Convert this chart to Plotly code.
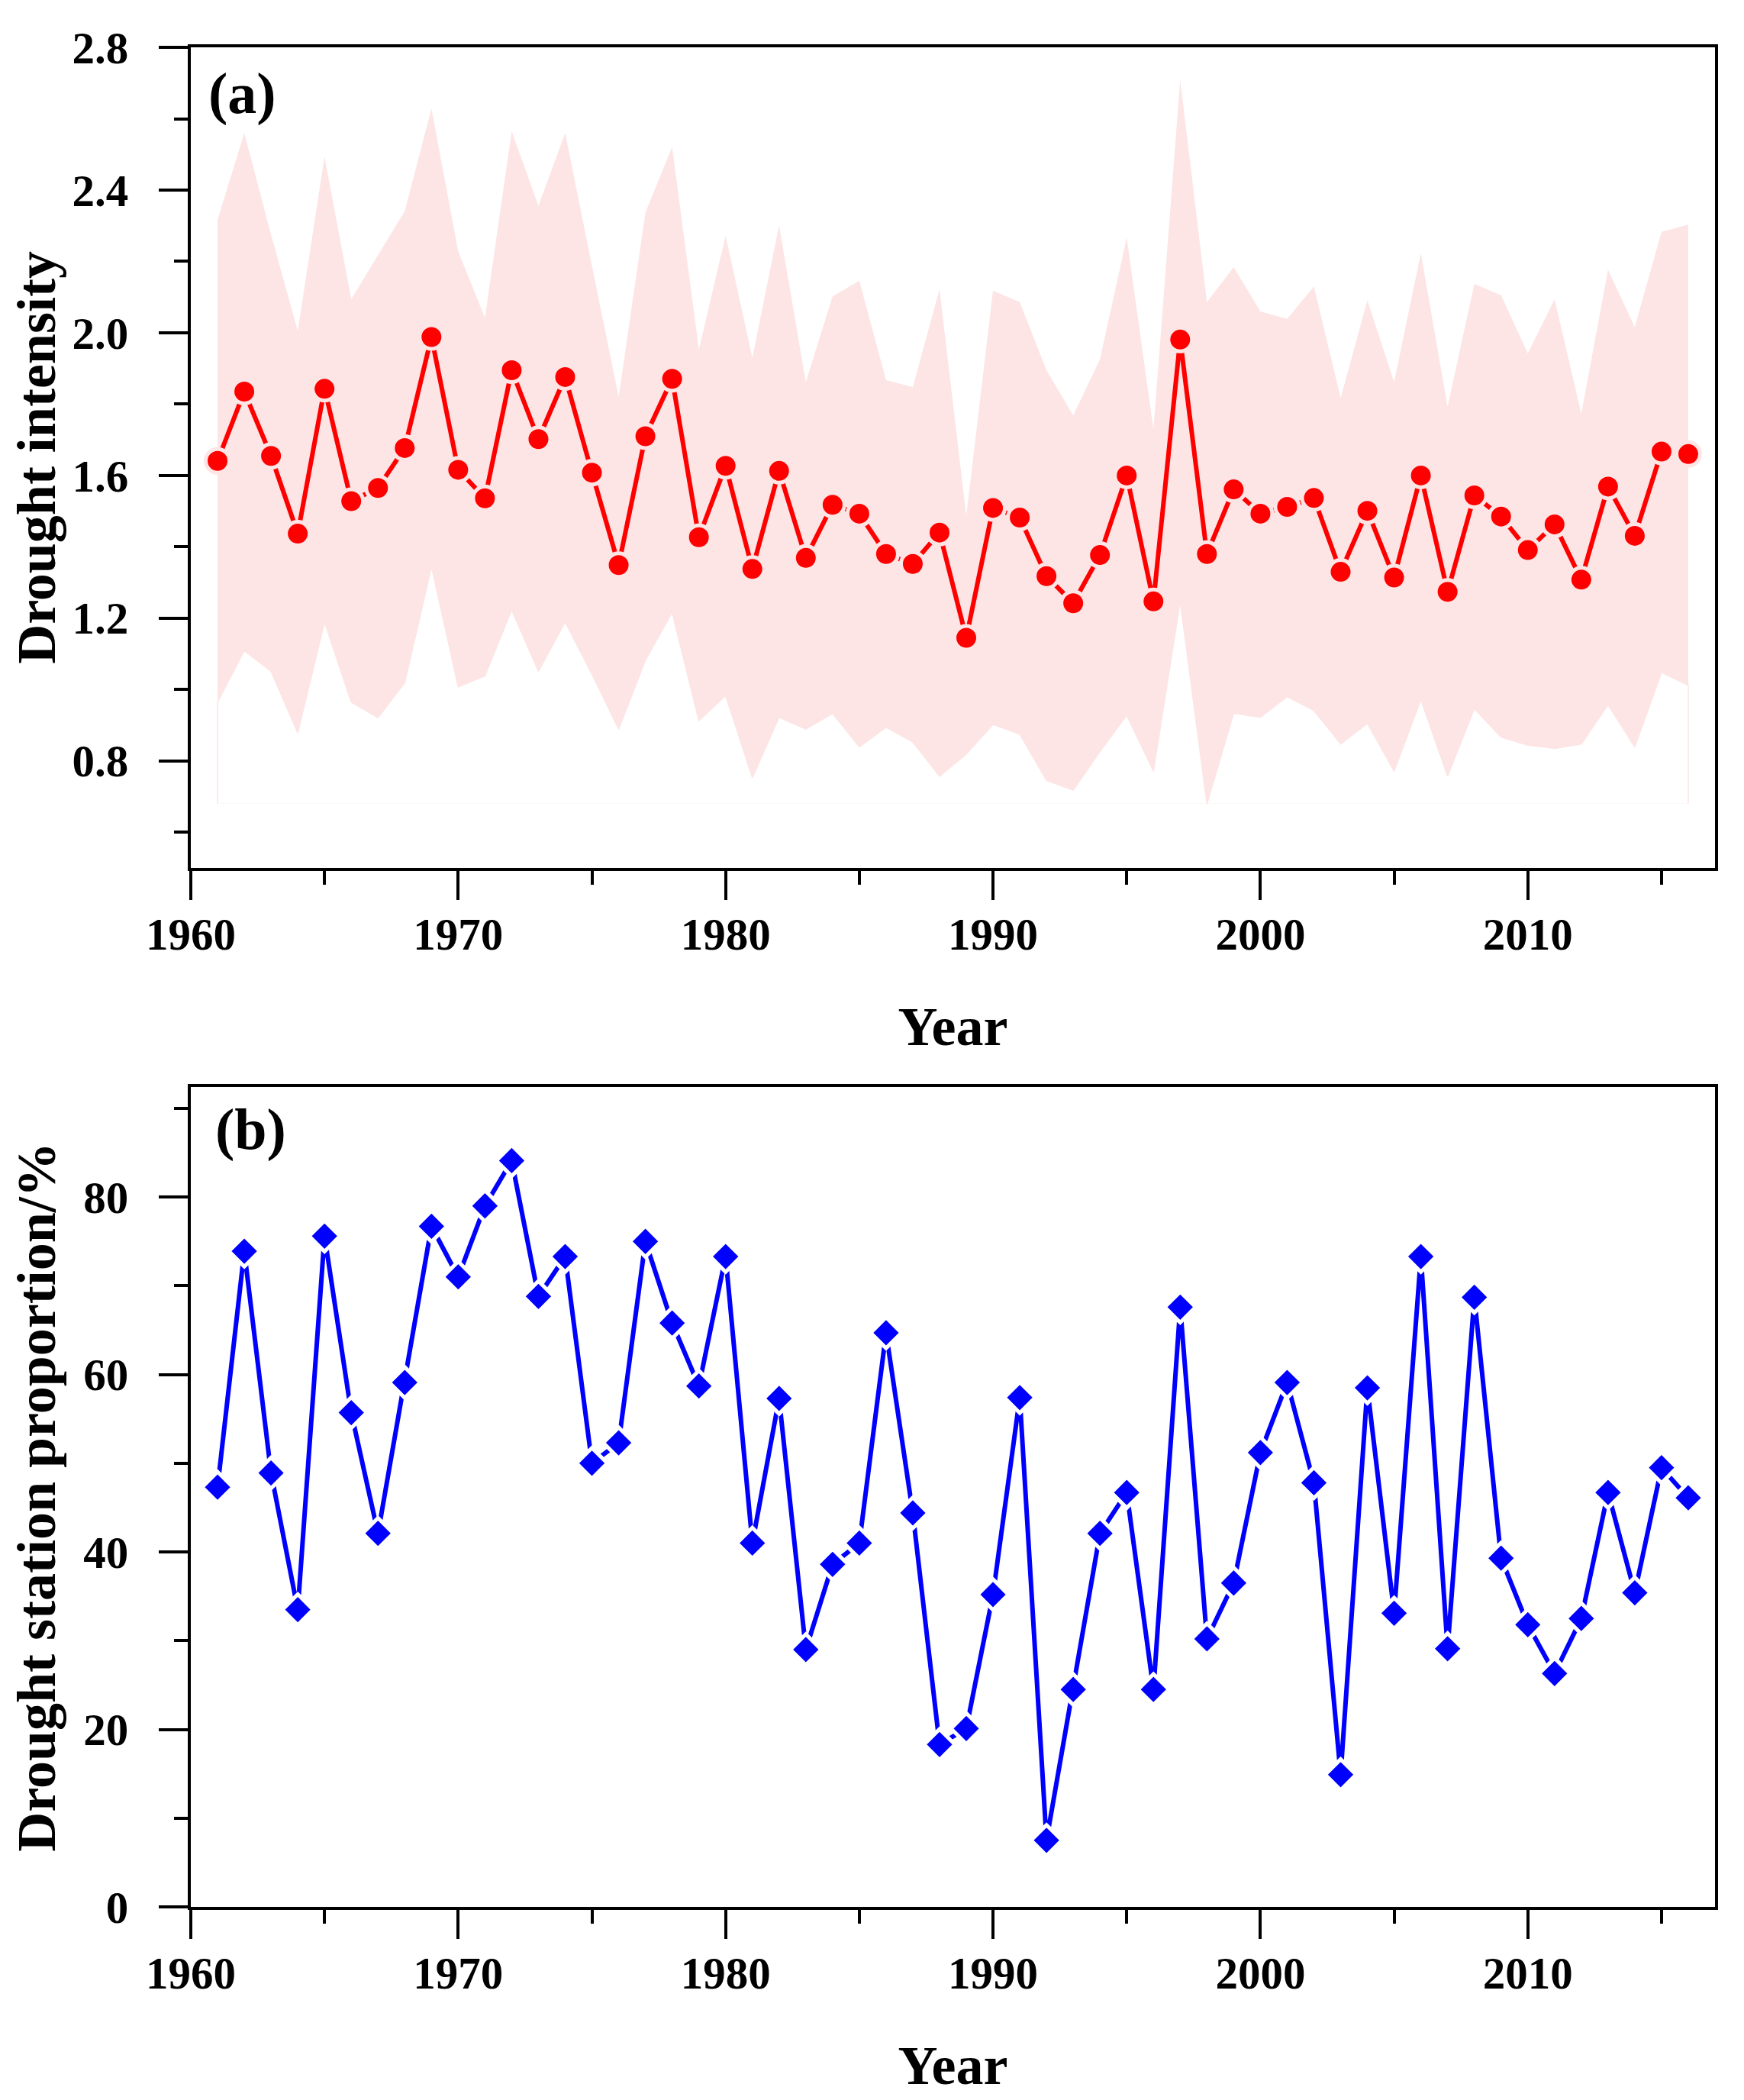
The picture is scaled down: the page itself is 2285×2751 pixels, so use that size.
import plotly.graph_objects as go

# values
years = list(range(1961, 2017))

intensity = [1.641, 1.835, 1.655, 1.437, 1.843, 1.528, 1.565, 1.677, 1.988, 1.616,
             1.536, 1.895, 1.702, 1.876, 1.608, 1.349, 1.710, 1.871, 1.427, 1.627,
             1.338, 1.613, 1.369, 1.518, 1.493, 1.380, 1.352, 1.440, 1.145, 1.509,
             1.482, 1.318, 1.242, 1.377, 1.600, 1.247, 1.981, 1.380, 1.561, 1.493,
             1.512, 1.537, 1.330, 1.501, 1.314, 1.600, 1.274, 1.544, 1.485, 1.391,
             1.463, 1.308, 1.569, 1.431, 1.667, 1.660]

upper = [2.317, 2.560, 2.275, 2.005, 2.494, 2.094, 2.217, 2.341, 2.628, 2.228,
         2.042, 2.565, 2.356, 2.560, 2.188, 1.820, 2.337, 2.521, 1.953, 2.272,
         1.930, 2.301, 1.862, 2.102, 2.146, 1.867, 1.848, 2.122, 1.487, 2.118,
         2.086, 1.895, 1.768, 1.926, 2.267, 1.729, 2.709, 2.086, 2.184, 2.060,
         2.039, 2.130, 1.817, 2.091, 1.862, 2.223, 1.793, 2.137, 2.105, 1.942,
         2.094, 1.773, 2.177, 2.016, 2.283, 2.303]

lower = [0.965, 1.109, 1.051, 0.878, 1.189, 0.965, 0.921, 1.019, 1.344, 1.007,
         1.038, 1.223, 1.051, 1.189, 1.043, 0.889, 1.082, 1.216, 0.913, 0.983,
         0.753, 0.922, 0.889, 0.933, 0.839, 0.894, 0.853, 0.757, 0.819, 0.902,
         0.875, 0.745, 0.718, 0.826, 0.928, 0.771, 1.247, 0.679, 0.933, 0.922,
         0.980, 0.941, 0.847, 0.905, 0.771, 0.972, 0.757, 0.946, 0.867, 0.844,
         0.835, 0.847, 0.957, 0.839, 1.048, 1.012]

band_floor = 0.68

proportion = [47.3, 73.9, 48.9, 33.5, 75.6, 55.7, 42.1, 59.1, 76.7, 71.0,
              79.0, 84.1, 68.8, 73.3, 50.0, 52.3, 75.0, 65.8, 58.7, 73.3,
              41.0, 57.3, 29.0, 38.6, 41.0, 64.7, 44.4, 18.3, 20.1, 35.2,
              57.4, 7.5, 24.5, 42.1, 46.7, 24.5, 67.6, 30.2, 36.5, 51.2,
              59.1, 47.8, 14.9, 58.5, 33.1, 73.3, 29.1, 68.7, 39.3, 31.8,
              26.3, 32.5, 46.7, 35.4, 49.5, 46.1]

W, H = 2285, 2751
PINK = "rgb(253,229,229)"
FONT = "Liberation Serif"

fig = go.Figure()

# band: upper curve down to a floor, then the lower curve cut out in white
bx = [years[0]] + years + [years[-1]]
fig.add_trace(go.Scatter(x=bx, y=[band_floor] + upper + [band_floor],
                         fill="toself", fillcolor=PINK, mode="lines",
                         line=dict(width=0), xaxis="x", yaxis="y",
                         hoverinfo="skip"))
fig.add_trace(go.Scatter(x=bx, y=[band_floor] + lower + [band_floor],
                         fill="toself", fillcolor="white", mode="lines",
                         line=dict(width=1.5, color=PINK), xaxis="x", yaxis="y",
                         hoverinfo="skip"))
fig.add_trace(go.Scatter(x=years, y=intensity, mode="lines+markers",
                         line=dict(color="#ff0000", width=6),
                         marker=dict(symbol="circle", size=31, color="#ff0000",
                                     line=dict(color=PINK, width=5)),
                         xaxis="x", yaxis="y"))

fig.add_trace(go.Scatter(x=years, y=proportion, mode="lines+markers",
                         line=dict(color="#0000ff", width=6),
                         marker=dict(symbol="diamond", size=31, color="#0000ff",
                                     line=dict(color="white", width=5)),
                         xaxis="x2", yaxis="y2"))

tickfont = dict(family=FONT, size=59, color="black", weight="bold")
titlefont = dict(family=FONT, size=72, color="black", weight="bold")

common = dict(showline=True, linecolor="black", linewidth=4, mirror=True,
              ticks="outside", ticklen=38, tickwidth=4, tickcolor="black",
              showgrid=False, zeroline=False, tickfont=tickfont,
              automargin=False)

xdom = [242 / W, 2239 / W]
xaxis_common = dict(common, range=[1960, 2017], tick0=1960, dtick=10,
                    minor=dict(ticks="outside", ticklen=18, tickwidth=4,
                               tickcolor="black", dtick=5, tick0=1960),
                    ticklabelstandoff=-6)

fig.update_layout(
    width=W, height=H,
    margin=dict(l=0, r=0, t=0, b=0),
    paper_bgcolor="white", plot_bgcolor="white",
    showlegend=False,
    xaxis=dict(xaxis_common, domain=xdom, anchor="y",
               title=dict(text="Year", font=titlefont, standoff=64)),
    yaxis=dict(common, domain=[1 - 1129 / H, 1 - 54 / H], anchor="x",
               range=[0.5, 2.8001], tick0=0.8, dtick=0.4, tickformat=".1f",
               minor=dict(ticks="outside", ticklen=18, tickwidth=4,
                          tickcolor="black", dtick=0.2, tick0=0.6),
               ticklabelstandoff=28,
               title=dict(text="Drought intensity", font=titlefont, standoff=22)),
    xaxis2=dict(xaxis_common, domain=xdom, anchor="y2",
                title=dict(text="Year", font=titlefont, standoff=64)),
    yaxis2=dict(common, domain=[1 - 2490 / H, 1 - 1416 / H], anchor="x2",
                range=[0, 92.4], tick0=0, dtick=20,
                minor=dict(ticks="outside", ticklen=18, tickwidth=4,
                           tickcolor="black", dtick=10, tick0=0),
                ticklabelstandoff=28,
                title=dict(text="Drought station proportion/%", font=titlefont,
                           standoff=30)),
    annotations=[
        dict(text="(a)", x=263 / W, y=1 - 70 / H, xref="paper", yref="paper",
             xanchor="left", yanchor="top", showarrow=False,
             font=dict(family=FONT, size=76, color="black", weight="bold")),
        dict(text="(b)", x=272 / W, y=1 - 1427 / H, xref="paper", yref="paper",
             xanchor="left", yanchor="top", showarrow=False,
             font=dict(family=FONT, size=76, color="black", weight="bold")),
    ],
)

fig.write_html("out.html")
